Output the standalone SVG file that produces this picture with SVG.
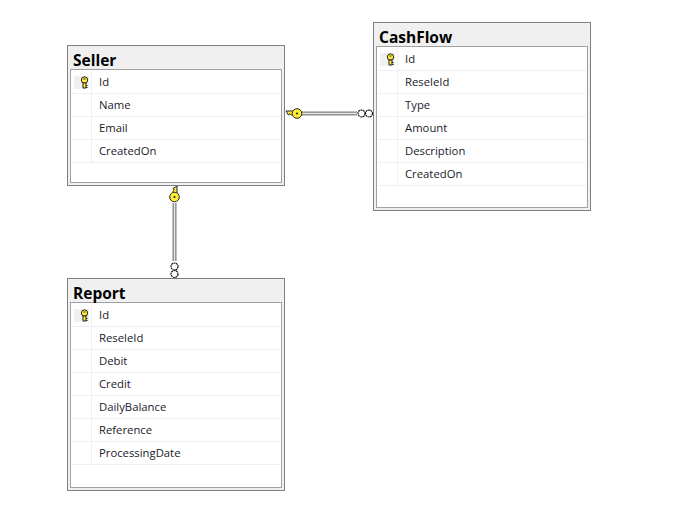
<svg xmlns="http://www.w3.org/2000/svg" width="682" height="525" viewBox="0 0 682 525">
<style>
text{font-family:"Open Sans","Noto Sans","Liberation Sans",sans-serif;fill:#1a1a2a}
.t{font-size:15.500px;font-weight:700;fill:#000}
.f{font-size:11.300px}
.o{fill:#f0f0f0;stroke:#808080;stroke-width:1}
.i{fill:#fff;stroke:#a0a0a0;stroke-width:1}
.r{stroke:#f0f0f0;stroke-width:1;fill:none}
.kbg{fill:#f0f0f0}
.c1{stroke:#808080;stroke-width:4;fill:none}
.c2{stroke:#e4e4e4;stroke-width:1.500;fill:none}
.ring{fill:#fff;stroke:#000;stroke-width:1.100;stroke-dasharray:2 0.500}
</style>
<defs>
<g id="key"><rect class="kbg" x="-10.500" y="-7" width="15" height="13"/><circle cx="0" cy="-3" r="3.200" fill="#ffee33" stroke="#222" stroke-width="1"/><path d="M-1.500 0V5H1.500V0Z" fill="#ffee33" stroke="#222" stroke-width="1"/><path d="M1.500 2.500H3M1.500 4.500H3" stroke="#222" stroke-width="1"/><path d="M-1 -4H1" stroke="#222" stroke-width="1"/></g>
<g id="rkey"><path d="M-1 -2.500H-11L-8.500 1.500L-7 0.200L-5.500 1.800L-3.500 0.500L-1 1.500Z" fill="#ffee33" stroke="#222" stroke-width="1"/><circle cx="0" cy="0" r="4.800" fill="#ffee33" stroke="#222" stroke-width="1"/><circle cx="0" cy="0" r="1.100" fill="#222"/></g>
</defs>
<g id="connectors">
<path class="c1" d="M301 113.500H357"/><path class="c2" d="M301 113.500H357"/>
<use href="#rkey" x="297" y="113.500"/>
<circle class="ring" cx="361.500" cy="113.500" r="3.500"/><circle class="ring" cx="369" cy="113.500" r="3.500"/>
<path class="c1" d="M174.500 203V261"/><path class="c2" d="M174.500 203V261"/>
<use href="#rkey" transform="translate(174.500 197) rotate(90)"/>
<circle class="ring" cx="174.500" cy="266.500" r="3.500"/><circle class="ring" cx="174.500" cy="274" r="3.500"/>
</g>
<g id="seller">
<rect class="o" x="67.500" y="45.500" width="217" height="140"/>
<rect class="i" x="70.500" y="69.500" width="211" height="113"/>
<path class="r" d="M72 93.500H280M72 116.500H280M72 139.500H280M72 162.500H280M91.500 71V162"/>
<use href="#key" x="84.500" y="83"/>
<text class="t" x="73" y="65.500">Seller</text>
<text class="f" x="99" y="86">Id</text>
<text class="f" x="99" y="109">Name</text>
<text class="f" x="99" y="132">Email</text>
<text class="f" x="99" y="155">CreatedOn</text>
</g>
<g id="cashflow">
<rect class="o" x="373.500" y="22.500" width="217" height="188"/>
<rect class="i" x="376.500" y="46.500" width="211" height="161"/>
<path class="r" d="M378 70.500H586M378 93.500H586M378 116.500H586M378 139.500H586M378 162.500H586M378 185.500H586M397.500 48V185"/>
<use href="#key" x="390.500" y="60"/>
<text class="t" x="379" y="42.500">CashFlow</text>
<text class="f" x="405" y="63">Id</text>
<text class="f" x="405" y="86">ReseleId</text>
<text class="f" x="405" y="109">Type</text>
<text class="f" x="405" y="132">Amount</text>
<text class="f" x="405" y="155">Description</text>
<text class="f" x="405" y="178">CreatedOn</text>
</g>
<g id="report">
<rect class="o" x="67.500" y="278.500" width="217" height="212"/>
<rect class="i" x="70.500" y="302.500" width="211" height="185"/>
<path class="r" d="M72 326.500H280M72 349.500H280M72 372.500H280M72 395.500H280M72 418.500H280M72 441.500H280M72 464.500H280M91.500 304V464"/>
<use href="#key" x="84.500" y="316"/>
<text class="t" x="73" y="298.500">Report</text>
<text class="f" x="99" y="319">Id</text>
<text class="f" x="99" y="342">ReseleId</text>
<text class="f" x="99" y="365">Debit</text>
<text class="f" x="99" y="388">Credit</text>
<text class="f" x="99" y="411">DailyBalance</text>
<text class="f" x="99" y="434">Reference</text>
<text class="f" x="99" y="457">ProcessingDate</text>
</g>
</svg>
